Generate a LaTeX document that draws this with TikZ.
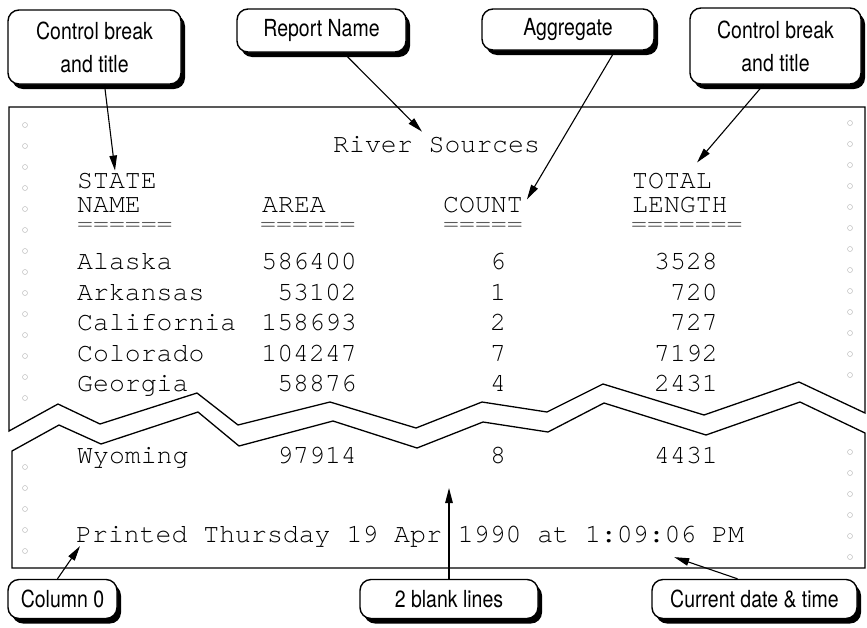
\documentclass[tikz,border=0pt]{standalone}
\usepackage{fontspec}
\usepackage{tikz}
\usetikzlibrary{arrows.meta,shadows}
\newfontfamily\calloutfont{TeX Gyre Heros}[FakeStretch=0.83]
\newfontfamily\printfont{TeX Gyre Cursor}

\begin{document}
\begin{tikzpicture}[x=1pt, y=-1pt,
      callout/.style={draw, line width=1.4pt, rounded corners=11pt, fill=white,
        drop shadow={shadow xshift=4pt, shadow yshift=-5pt, opacity=1, fill=black},
        font=\calloutfont\fontsize{23.5}{33}\selectfont, align=center, inner sep=0pt},
      report/.style={font=\printfont\fontsize{26.5}{24}\selectfont, inner sep=0pt},
      rule/.style={report, text=black!65},
      ptr/.style={-{Triangle[length=15pt,width=7.5pt]}, line width=1.1pt},
      sheet/.style={line width=1.3pt, line join=miter},
      hole/.style={draw=gray!50, line width=0.5pt}
    ]
  \useasboundingbox (0,0) rectangle (867,627);

  \draw[sheet] (9,431) -- (9,107) -- (865,107) -- (865,413) -- (799,382) -- (704,415)
    -- (603,384) -- (547,412) -- (482,402) -- (416,428) -- (330,402) -- (238,425)
    -- (197,393) -- (100,424) -- (58,404) -- cycle;
  \draw[sheet] (12,451) -- (59,425) -- (101,444) -- (198,412) -- (239,446) -- (333,421)
    -- (417,448) -- (483,422) -- (548,432) -- (604,403) -- (706,435) -- (800,402)
    -- (865,433) -- (865,568) -- (12,568) -- cycle;

  \foreach \y in {125,146,...,398} \draw[hole] (25,\y) circle (2.5);
  \foreach \y in {467,488,...,551} \draw[hole] (25,\y) circle (2.5);
  \foreach \y in {123,144,...,375} \draw[hole] (850,\y) circle (2.5);
  \foreach \y in {452,473,...,557} \draw[hole] (850,\y) circle (2.5);

  \node[report, anchor=base west] (title) at (333,152) {River Sources};
  \node[report, anchor=base west] (hstate) at (77,188) {STATE};
  \node[report, anchor=base west] (hname) at (77,212) {NAME};
  \node[rule, anchor=base west] (hsline) at (77,231) {======};
  \node[report, anchor=base west] (harea) at (262,212) {AREA};
  \node[rule, anchor=base west] (haline) at (260,231) {======};
  \node[report, anchor=base west] (hcount) at (443,212) {COUNT};
  \node[rule, anchor=base west] (hcline) at (443,231) {=====};
  \node[report, anchor=base west] (htotal) at (632,188) {TOTAL};
  \node[report, anchor=base west] (hlength) at (632,212) {LENGTH};
  \node[rule, anchor=base west] (htline) at (631,231) {=======};

  \foreach \st/\ar/\ct/\ln/\y [count=\i] in {Alaska/586400/6/3528/269,
      Arkansas/53102/1/720/300, California/158693/2/727/330, Colorado/104247/7/7192/361,
      Georgia/58876/4/2431/391, Wyoming/97914/8/4431/463} {
    \node[report, anchor=base west] (st\i) at (77,\y) {\st};
    \node[report, anchor=base east] (ar\i) at (357,\y) {\ar};
    \node[report, anchor=base] (ct\i) at (498,\y) {\ct};
    \node[report, anchor=base east] (ln\i) at (718,\y) {\ln};
  }
  \node[report, anchor=base west] (printed) at (76,542) {Printed Thursday 19 Apr 1990 at 1:09:06 PM};

  \node[callout, minimum width=173pt, minimum height=74pt] (cbleft) at (94.5,47) {Control break\\and title};
  \node[callout, minimum width=169pt, minimum height=43pt] (rname) at (321.5,30.5) {Report Name};
  \node[callout, minimum width=172pt, minimum height=41pt] (aggr) at (568,29.5) {Aggregate};
  \node[callout, minimum width=171pt, minimum height=76pt] (cbright) at (775.5,46) {Control break\\and title};
  \node[callout, minimum width=109pt, minimum height=39pt] (col0) at (62.5,599) {Column 0};
  \node[callout, minimum width=178pt, minimum height=39pt] (blank) at (449,599) {2 blank lines};
  \node[callout, minimum width=205pt, minimum height=39pt] (cdate) at (754.5,599) {Current date \& time};
  \coordinate (gap) at (449,488);

  \draw[ptr] ([xshift=10pt]cbleft.south) -- ([xshift=38pt,yshift=2pt]hstate.north west);
  \draw[ptr] ([xshift=22pt]rname.south) -- ([xshift=89pt,yshift=4pt]title.north west);
  \draw[ptr] ([xshift=47pt]aggr.south) -- ([xshift=4pt,yshift=-3pt]hcount.north east);
  \draw[ptr] ([xshift=-12pt]cbright.south) -- ([xshift=65pt,yshift=10pt]htotal.north west);
  \draw[ptr] ([xshift=-5pt]col0.north) -- ([xshift=4pt,yshift=1pt]printed.south west);
  \draw[ptr] (blank.north) -- (gap);
  \draw[ptr] ([xshift=-17pt]cdate.north) -- ([xshift=-70pt,yshift=-10pt]printed.south east);
\end{tikzpicture}
\end{document}
